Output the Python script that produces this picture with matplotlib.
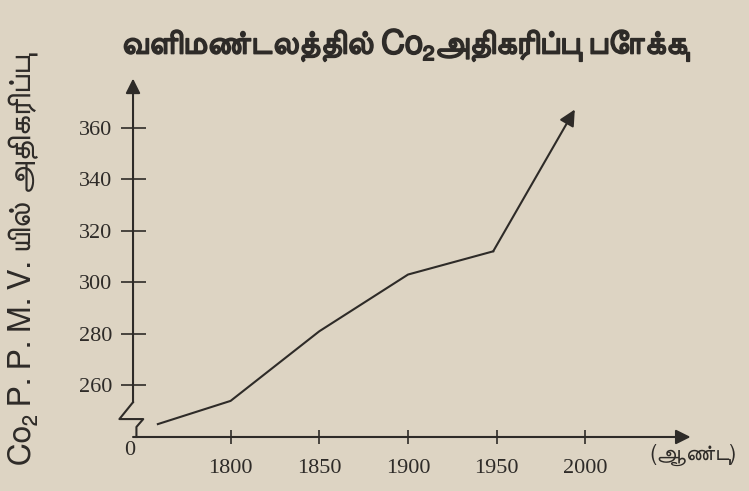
import matplotlib
matplotlib.use("Agg")
import matplotlib.pyplot as plt
from matplotlib import font_manager as fm
from matplotlib.ft2font import FT2Font
import matplotlib.patheffects as pe

# ---- data ----
years = [1759, 1800, 1850, 1900, 1948, 1994]
co2_ppmv = [245, 254, 281, 303, 312, 367]
ytick_values = [260, 280, 300, 320, 340, 360]
ytick_labels = ["260", "280", "300", "320", "340", "360"]
xtick_values = [1800, 1850, 1900, 1950, 2000]
xtick_labels = ["1800", "1850", "1900", "1950", "2000"]

title_text = "வளிமண்டலத்தில் Co₂அதிகரிப்பு போக்கு"
ylabel_text = "Co₂ P. P. M. V. யில் அதிகரிப்பு"
xunit_text = "(ஆண்டு)"

# ---- find a sans font with Tamil glyphs ----
reg = []
seen = set()
for f in fm.fontManager.ttflist:
    if f.fname in seen:
        continue
    seen.add(f.fname)
    try:
        cm = FT2Font(f.fname).get_charmap()
    except Exception:
        continue
    if 0x0BB5 in cm:
        w = f.weight if isinstance(f.weight, int) else (700 if "bold" in str(f.weight) else 400)
        if w < 600 and f.style == "normal":
            reg.append(f.name)
reg.sort(key=lambda n: (0 if "Sans" in n else 1, n))
tamil = reg[0] if reg else "DejaVu Sans"
fam = [tamil, "DejaVu Sans"]

ink = "#2e2b28"
paper = "#ddd4c3"

fig = plt.figure(figsize=(7.49, 4.91), dpi=100, facecolor=paper)
ax = fig.add_axes([0.1776, 0.11, 0.758, 0.73])
ax.set_facecolor(paper)
ax.set_xlim(1745, 2065)
ax.set_ylim(240, 379)
for s in ax.spines.values():
    s.set_visible(False)

# axes with arrows
ax.annotate("", xy=(0, 1.0), xytext=(0, 0.097), xycoords="axes fraction",
            arrowprops=dict(arrowstyle="-|>", color=ink, lw=1.5,
                            mutation_scale=22, shrinkA=0, shrinkB=0))
ax.annotate("", xy=(0.982, 0.0), xytext=(0.0, 0.0), xycoords="axes fraction",
            arrowprops=dict(arrowstyle="-|>", color=ink, lw=1.5,
                            mutation_scale=22, shrinkA=0, shrinkB=0))
# axis break zigzag
ax.plot([0.0, -0.024, 0.018, 0.006, 0.006], [0.097, 0.05, 0.05, 0.028, 0.0],
        transform=ax.transAxes, color=ink, lw=1.5, clip_on=False)

# ticks
ax.set_yticks(ytick_values)
ax.set_yticklabels(ytick_labels)
ax.set_xticks(xtick_values)
ax.set_xticklabels(xtick_labels)
ax.tick_params(axis="y", direction="inout", length=18, width=1.2, color=ink,
               pad=6, labelsize=16, labelcolor=ink)
ax.tick_params(axis="x", direction="inout", length=10, width=1.2, color=ink,
               pad=11, labelsize=16, labelcolor=ink)
for lab in ax.get_xticklabels() + ax.get_yticklabels():
    lab.set_family("Liberation Serif")

ax.text(-0.005, -0.01, "0", transform=ax.transAxes, ha="center", va="top",
        fontsize=16, family="Liberation Serif", color=ink)

# data line
ax.plot(years[:-1], co2_ppmv[:-1], color=ink, lw=1.5)
ax.annotate("", xy=(years[-1], co2_ppmv[-1]), xytext=(years[-2], co2_ppmv[-2]),
            arrowprops=dict(arrowstyle="-|>", color=ink, lw=1.5,
                            mutation_scale=24, shrinkA=0, shrinkB=0))

# texts
fig.text(0.54, 0.907, title_text, ha="center", va="center", fontsize=24,
         family=fam, color=ink,
         path_effects=[pe.withStroke(linewidth=1.1, foreground=ink)])
fig.text(0.03, 0.47, ylabel_text, ha="center", va="center", rotation=90,
         fontsize=23, family=fam, color=ink)
fig.text(0.925, 0.073, xunit_text, ha="center", va="center", fontsize=16,
         family=fam, color=ink)

fig.savefig("out.png", dpi=100, facecolor=paper)
